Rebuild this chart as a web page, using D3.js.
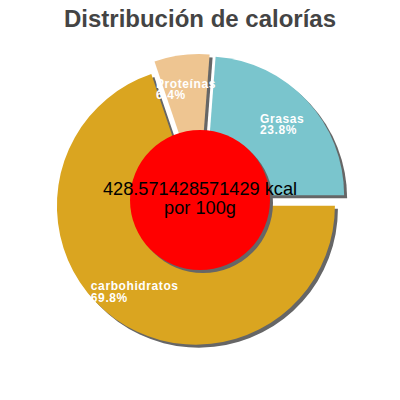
<!DOCTYPE html>
<html><head><meta charset="utf-8">
<script src="https://cdn.jsdelivr.net/npm/d3@7"></script>
<style>body{margin:0;background:#fff}svg{display:block}</style>
</head><body>
<svg id="c" width="400" height="400"></svg>
<script>
const categories = ["carbohidratos", "Proteínas", "Grasas"];
const values = [69.8, 6.4, 23.8];
const colors = ["#DAA520", "#EEC591", "#7AC5CD"];
const title = "Distribución de calorías";
const centerLines = ["428.571428571429 kcal", "por 100g"];

const svg = d3.select("#c");
const cx = 200, cy = 200, R = 139, explode = 7, inner = 70;
const font = "'Liberation Sans', Arial, sans-serif";

svg.append("text").attr("x", 200).attr("y", 27).attr("text-anchor", "middle")
  .attr("font-family", font).attr("font-weight", "bold").attr("font-size", 24)
  .attr("fill", "#444").text(title);

const data = categories.map((c, i) => ({name: c, value: values[i], color: colors[i]}));
const pie = d3.pie().value(d => d.value).sort(null)
  .startAngle(Math.PI / 2).endAngle(Math.PI / 2 + 2 * Math.PI);
const arcs = pie(data);
const arc = d3.arc().innerRadius(0).outerRadius(R);
const labelArc = d3.arc().innerRadius(105).outerRadius(105);
const total = d3.sum(values);

const g = svg.append("g").attr("transform", `translate(${cx},${cy})`);
function off(a) {
  const m = (a.startAngle + a.endAngle) / 2;
  return [Math.sin(m) * explode, -Math.cos(m) * explode];
}
// shadows
g.selectAll("path.sh").data(arcs).join("path").attr("class", "sh")
  .attr("d", arc).attr("fill", "#666")
  .attr("transform", d => { const o = off(d); return `translate(${o[0] + 3},${o[1] + 3})`; });
g.selectAll("path.sl").data(arcs).join("path").attr("class", "sl")
  .attr("d", arc).attr("fill", d => d.data.color)
  .attr("transform", d => { const o = off(d); return `translate(${o[0]},${o[1]})`; });

// center circle
g.append("circle").attr("cx", 3).attr("cy", 3).attr("r", inner).attr("fill", "#666");
g.append("circle").attr("r", inner).attr("fill", "#FF0000");

// labels
arcs.forEach(d => {
  const o = off(d);
  const c = labelArc.centroid(d);
  const t = g.append("text").attr("font-family", font).attr("font-size", 12)
    .attr("font-weight", "bold").attr("letter-spacing", 0.6).attr("fill", "#fff");
  const t1 = t.append("tspan").text(d.data.name);
  const w = t1.node().getComputedTextLength();
  const x = c[0] + o[0] - w / 2;
  const y = c[1] + o[1] - 1;
  t1.attr("x", x).attr("y", y);
  t.append("tspan").attr("x", x).attr("y", y + 11.5)
    .text((d.data.value / total * 100).toFixed(1) + "%");
});

g.selectAll("text.ct").data(centerLines).join("text").attr("class", "ct")
  .attr("x", 0).attr("y", (d, i) => -5 + i * 19).attr("text-anchor", "middle")
  .attr("font-family", font).attr("font-size", 18.2).attr("fill", "#000").text(d => d);
</script>
</body></html>
